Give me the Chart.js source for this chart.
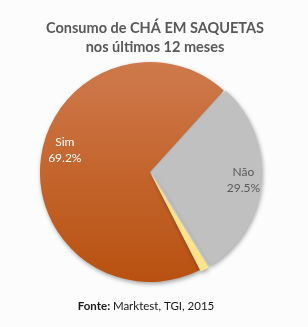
<!DOCTYPE html>
<html>
<head>
<meta charset="utf-8">
<script src="https://cdn.jsdelivr.net/npm/chart.js@4"></script>
<style>
  html,body{margin:0;padding:0;background:#fcfcfc;}
  #wrap{width:308px;height:327px;position:relative;}
</style>
</head>
<body>
<div id="wrap"><canvas id="pie" width="308" height="327"></canvas></div>
<script>
// data
const labels = ['Sim', 'Não', 'Outro'];
const values = [69.2, 29.5, 1.3];
const showLabel = [true, true, false];
const titleLines = ['Consumo de CHÁ EM SAQUETAS', 'nos últimos 12 meses'];

const FONT = 'Lato, "Open Sans", sans-serif';
const flatColors = ['#c8622a', '#c0c0c0', '#fde38c'];

function sliceFill(ctx){
  const i = ctx.dataIndex;
  const c = ctx.chart, a = c.chartArea;
  if(i !== 0 || !a) return flatColors[i];
  const g = c.ctx.createLinearGradient(0, a.top, 0, a.bottom);
  g.addColorStop(0, '#cf7a4d');
  g.addColorStop(1, '#b8500f');
  return g;
}

// text drawn by hand: title, footer, slice labels
const extras = {
  id: 'extras',
  beforeDatasetsDraw(chart){
    const ctx = chart.ctx;
    ctx.save();
    ctx.shadowColor = 'rgba(0,0,0,0.35)';
    ctx.shadowBlur = 4;
    ctx.shadowOffsetX = 1;
    ctx.shadowOffsetY = 2;
  },
  afterDatasetsDraw(chart){
    const ctx = chart.ctx;
    ctx.restore();
    const meta = chart.getDatasetMeta(0);
    ctx.save();
    ctx.textAlign = 'center';
    ctx.textBaseline = 'middle';
    ctx.font = '12px ' + FONT;
    const tweak = [7, 0, 0];
    const dist = [0.8, 0.78, 0.7];
    meta.data.forEach((arc, i) => {
      if(!showLabel[i]) return;
      const p = arc.getProps(['x','y','startAngle','endAngle','outerRadius'], true);
      const mid0 = (p.startAngle + p.endAngle) / 2;
      const mid = mid0 + tweak[i] * Math.PI / 180;
      const r = p.outerRadius * dist[i];
      const off = arc.options.offset || 0;
      const cx = p.x + Math.cos(mid0) * off;
      const cy = p.y + Math.sin(mid0) * off;
      const x = cx + Math.cos(mid) * r, y = cy + Math.sin(mid) * r;
      ctx.fillStyle = i === 0 ? '#ffffff' : '#595959';
      ctx.fillText(labels[i], x, y - 8);
      ctx.fillText(values[i].toFixed(1) + '%', x, y + 8);
    });
    ctx.restore();
  },
  afterDraw(chart){
    const ctx = chart.ctx;
    ctx.save();
    ctx.textAlign = 'center';
    ctx.textBaseline = 'middle';
    ctx.fillStyle = '#595959';
    ctx.font = 'bold 14.5px ' + FONT;
    ctx.fillText(titleLines[0], 155, 28);
    ctx.fillText(titleLines[1], 155, 47);
    // footer
    ctx.textAlign = 'left';
    ctx.fillStyle = '#1a1a1a';
    const a = 'Fonte: ', b = 'Marktest, TGI, 2015';
    ctx.font = 'bold 11.5px ' + FONT;
    const w1 = ctx.measureText(a).width;
    ctx.font = '11.5px ' + FONT;
    const w2 = ctx.measureText(b).width;
    const x0 = 146 - (w1 + w2) / 2;
    ctx.font = 'bold 11.5px ' + FONT;
    ctx.fillText(a, x0, 306);
    ctx.font = '11.5px ' + FONT;
    ctx.fillText(b, x0 + w1, 306);
    ctx.restore();
  }
};

new Chart(document.getElementById('pie'), {
  type: 'pie',
  data: {
    labels: labels,
    datasets: [{
      data: values,
      backgroundColor: sliceFill,
      borderWidth: 0,
      offset: [0, 8, 4]
    }]
  },
  options: {
    responsive: false,
    animation: false,
    rotation: 153,
    layout: {padding: {left: 36, right: 44, top: 58, bottom: 41}},
    plugins: {
      legend: {display: false},
      title: {display: false},
      tooltip: {enabled: false}
    }
  },
  plugins: [extras]
});
</script>
</body>
</html>
